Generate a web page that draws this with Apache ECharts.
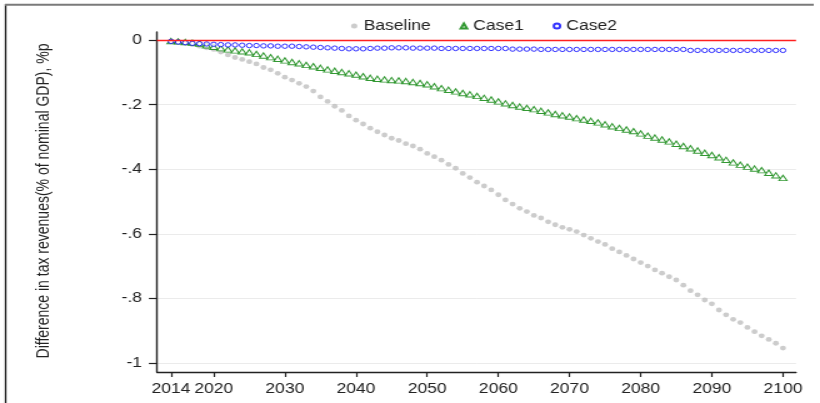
<!DOCTYPE html>
<html>
<head>
<meta charset="utf-8">
<script src="https://cdn.jsdelivr.net/npm/echarts@6/dist/echarts.min.js"></script>
<style>
html,body{margin:0;padding:0;background:#fff;overflow:hidden;}
#wrap{width:656px;height:403px;transform:scaleX(1.25);transform-origin:0 0;}
#chart{width:656px;height:403px;}
</style>
</head>
<body>
<div id="wrap"><div id="chart"></div></div>
<script>
const years = [2014,2015,2016,2017,2018,2019,2020,2021,2022,2023,2024,2025,2026,2027,2028,2029,
2030,2031,2032,2033,2034,2035,2036,2037,2038,2039,2040,2041,2042,2043,2044,2045,2046,2047,2048,2049,
2050,2051,2052,2053,2054,2055,2056,2057,2058,2059,2060,2061,2062,2063,2064,2065,2066,2067,2068,2069,
2070,2071,2072,2073,2074,2075,2076,2077,2078,2079,2080,2081,2082,2083,2084,2085,2086,2087,2088,2089,
2090,2091,2092,2093,2094,2095,2096,2097,2098,2099,2100];

const baseline = [-0.003,-0.006,-0.010,-0.014,-0.019,-0.024,-0.029,-0.037,-0.046,-0.054,-0.060,-0.067,-0.074,-0.085,-0.092,-0.103,
-0.115,-0.124,-0.134,-0.144,-0.158,-0.176,-0.190,-0.205,-0.218,-0.235,-0.248,-0.260,-0.273,-0.284,-0.294,-0.304,-0.311,-0.321,-0.328,-0.338,
-0.351,-0.361,-0.372,-0.385,-0.397,-0.413,-0.426,-0.440,-0.452,-0.464,-0.479,-0.495,-0.508,-0.521,-0.531,-0.543,-0.551,-0.563,-0.572,-0.580,
-0.586,-0.593,-0.604,-0.614,-0.624,-0.633,-0.646,-0.656,-0.667,-0.678,-0.689,-0.700,-0.712,-0.722,-0.733,-0.743,-0.759,-0.776,-0.789,-0.805,
-0.817,-0.836,-0.851,-0.865,-0.875,-0.890,-0.903,-0.916,-0.927,-0.939,-0.954];

const case1 = [-0.003,-0.004,-0.006,-0.008,-0.011,-0.016,-0.021,-0.025,-0.029,-0.032,-0.035,-0.038,-0.043,-0.048,-0.053,-0.058,
-0.063,-0.068,-0.072,-0.077,-0.081,-0.086,-0.091,-0.095,-0.099,-0.103,-0.107,-0.112,-0.117,-0.120,-0.122,-0.124,-0.125,-0.127,-0.130,-0.133,
-0.137,-0.143,-0.149,-0.154,-0.159,-0.164,-0.168,-0.173,-0.179,-0.184,-0.190,-0.196,-0.201,-0.206,-0.210,-0.214,-0.219,-0.224,-0.229,-0.233,
-0.237,-0.242,-0.246,-0.250,-0.255,-0.261,-0.267,-0.272,-0.277,-0.282,-0.289,-0.296,-0.302,-0.308,-0.314,-0.321,-0.328,-0.335,-0.342,-0.349,
-0.356,-0.363,-0.371,-0.379,-0.386,-0.392,-0.398,-0.403,-0.411,-0.419,-0.427];

const case2 = [-0.004,-0.006,-0.008,-0.010,-0.011,-0.012,-0.013,-0.014,-0.015,-0.015,-0.016,-0.017,-0.017,-0.018,-0.018,-0.019,
-0.019,-0.019,-0.020,-0.021,-0.022,-0.023,-0.024,-0.025,-0.026,-0.027,-0.027,-0.027,-0.026,-0.025,-0.025,-0.024,-0.024,-0.024,-0.025,-0.025,
-0.025,-0.025,-0.026,-0.026,-0.026,-0.026,-0.026,-0.026,-0.026,-0.026,-0.026,-0.026,-0.028,-0.028,-0.028,-0.028,-0.029,-0.029,-0.029,-0.029,
-0.029,-0.029,-0.029,-0.029,-0.029,-0.029,-0.029,-0.029,-0.029,-0.029,-0.029,-0.029,-0.029,-0.029,-0.029,-0.029,-0.029,-0.032,-0.032,-0.032,
-0.032,-0.032,-0.032,-0.032,-0.032,-0.032,-0.032,-0.032,-0.032,-0.032,-0.032];

const xTicks = [2014,2020,2030,2040,2050,2060,2070,2080,2090,2100];
const yTicks = [0,-0.2,-0.4,-0.6,-0.8,-1];
const yTickLabels = ['0','-.2','-.4','-.6','-.8','-1'];
const seriesNames = ['Baseline','Case1','Case2'];
const yTitle = 'Difference in tax revenues(% of nominal GDP), %p';

const FONT = '"Liberation Sans", Arial, sans-serif';
const chart = echarts.init(document.getElementById('chart'), null, {renderer:'canvas'});

function pairs(vals){ return years.map((y,i)=>[y, vals[i]]); }

chart.setOption({
  animation:false,
  backgroundColor:'#fff',
  grid:{left:125.6, right:19.2, top:32, bottom:31},
  legend:{
    left:275.9, top:14, itemWidth:5, itemHeight:5, itemGap:23,
    textStyle:{fontFamily:FONT, fontSize:14, color:'#222'},
    data:seriesNames
  },
  xAxis:{
    type:'value', min:2012.03, max:2101.83,
    axisLine:{show:true, onZero:false, lineStyle:{color:'#222', width:1.4}},
    axisTick:{show:true, length:5, customValues:xTicks, lineStyle:{color:'#222', width:1.2}},
    axisLabel:{customValues:xTicks, margin:10, fontFamily:FONT, fontSize:14, color:'#222',
      hideOverlap:false, showMinLabel:true, showMaxLabel:true,
      formatter:function(v){ return String(Math.round(v)); }},
    splitLine:{show:false}
  },
  yAxis:{
    type:'value', min:-1.028, max:0.025,
    axisLine:{show:true, onZero:false, lineStyle:{color:'#222', width:1.4}},
    axisTick:{show:true, length:6.5, customValues:yTicks, lineStyle:{color:'#222', width:1.2}},
    axisLabel:{customValues:yTicks, margin:12, fontFamily:FONT, fontSize:14, color:'#222',
      formatter:function(v){ const i = yTicks.findIndex(t=>Math.abs(t-v)<1e-6); return i>=0?yTickLabels[i]:''; }},
    splitLine:{show:true, lineStyle:{color:'#ebebeb', width:1}}
  },
  graphic:[
    {type:'line', shape:{x1:4.5,y1:4,x2:4.5,y2:403}, style:{stroke:'#111', lineWidth:1.3}, silent:true},
    {type:'line', shape:{x1:4,y1:4.8,x2:651,y2:4.8}, style:{stroke:'#7a7a7a', lineWidth:2}, silent:true},
    {type:'text', x:35.2, y:201, rotation:Math.PI/2,
     style:{text:yTitle, fontFamily:FONT, fontSize:14, fill:'#222', align:'center', verticalAlign:'middle'}, silent:true}
  ],
  series:[
    {name:seriesNames[0], type:'scatter', data:pairs(baseline), symbol:'circle', symbolSize:4.8,
     itemStyle:{color:'#bfbfbf'}, z:2,
     markLine:{silent:true, symbol:['none','none'], label:{show:false},
       lineStyle:{color:'#ff2020', width:1.3, type:'solid'}, data:[{yAxis:0}]}},
    {name:seriesNames[1], type:'scatter', data:pairs(case1), symbol:'triangle', symbolSize:[6.4,5.4],
     itemStyle:{color:'#fff', borderColor:'#008000', borderWidth:1}, z:3},
    {name:seriesNames[2], type:'scatter', data:pairs(case2), symbol:'circle', symbolSize:4.4,
     itemStyle:{color:'#fff', borderColor:'#0000ff', borderWidth:1}, z:4}
  ]
});
</script>
</body>
</html>
